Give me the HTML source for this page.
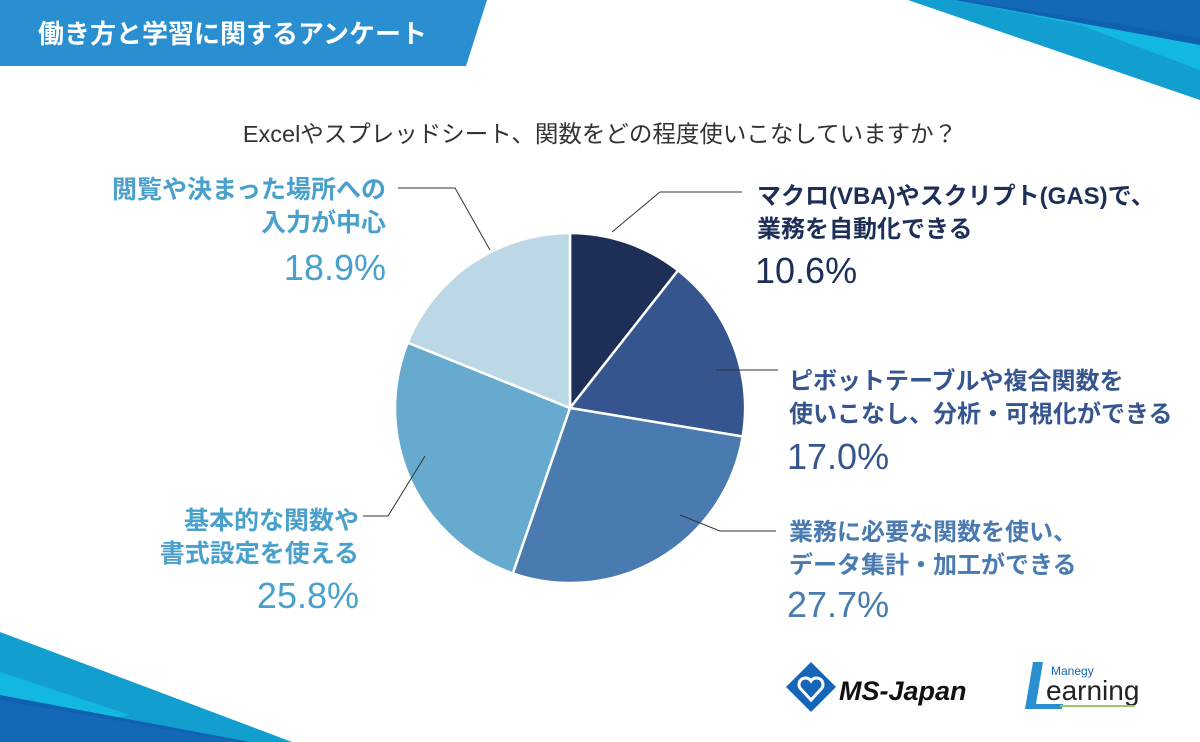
<!DOCTYPE html>
<html><head><meta charset="utf-8"><style>
body{margin:0;width:1200px;height:742px;overflow:hidden;background:#fff;font-family:"Liberation Sans","Noto Sans CJK JP",sans-serif;}
svg{display:block}
</style></head><body>
<svg width="1200" height="742" viewBox="0 0 1200 742">
<polygon points="0,0 487,0 466,66 0,66" fill="#2a8fd0"/>
<text x="38" y="43" font-size="26" font-weight="700" fill="#fff" font-family="Liberation Sans,Noto Sans CJK JP,sans-serif">働き方と学習に関するアンケート</text>
<polygon points="908,0 1200,0 1200,100" fill="#129fd0"/>
<polygon points="955,0 1200,0 1200,70 1080,25" fill="#13b8e0"/>
<polygon points="955,0 1200,0 1200,45" fill="#1060b0"/>
<polygon points="960,0 1200,0 1200,38 1120,24" fill="#1468b8"/>
<polygon points="0,632 292,742 0,742" fill="#129fd0"/>
<polygon points="0,672 130,715 0,742" fill="#13b8e0"/>
<polygon points="0,695 250,742 0,742" fill="#1060b0"/>
<polygon points="0,700 240,742 0,742" fill="#1468b8"/>
<text x="600" y="142" font-size="23.5" fill="#333" text-anchor="middle" font-family="Liberation Sans,Noto Sans CJK JP,sans-serif">Excelやスプレッドシート、関数をどの程度使いこなしていますか？</text>
<g stroke="#fff" stroke-width="2.5">
<path d="M570,408 L570,233 A175,175 0 0 1 678.1,270.4 Z" fill="#1e2f57"/>
<path d="M570,408 L678.1,270.4 A175,175 0 0 1 742.7,436.5 Z" fill="#36558f"/>
<path d="M570,408 L742.7,436.5 A175,175 0 0 1 512.8,573.4 Z" fill="#4a7bb0"/>
<path d="M570,408 L512.8,573.4 A175,175 0 0 1 407.7,342.6 Z" fill="#67aacf"/>
<path d="M570,408 L407.7,342.6 A175,175 0 0 1 570,233 Z" fill="#bcd8e6"/>
</g>
<g stroke="#333" stroke-width="1" fill="none">
<polyline points="612,232 660,192 742,192"/>
<polyline points="716,370 778,370"/>
<polyline points="680,515 720,531 776,531"/>
<polyline points="425,456 388,516 363,516"/>
<polyline points="490,250 455,188 398,188"/>
</g>
<g font-family="Liberation Sans,Noto Sans CJK JP,sans-serif" font-weight="700" font-size="24">
<g fill="#1e2f57"><text x="757" y="204">マクロ(VBA)やスクリプト(GAS)で、</text><text x="757" y="237">業務を自動化できる</text></g>
<g fill="#36558f"><text x="789" y="389">ピボットテーブルや複合関数を</text><text x="789" y="422">使いこなし、分析・可視化ができる</text></g>
<g fill="#4a7bb0"><text x="789" y="540">業務に必要な関数を使い、</text><text x="789" y="573">データ集計・加工ができる</text></g>
<g fill="#4aa0cc" text-anchor="end" font-size="25"><text x="386" y="198">閲覧や決まった場所への</text><text x="386" y="231">入力が中心</text><text x="359" y="529">基本的な関数や</text><text x="359" y="562">書式設定を使える</text></g>
</g>
<g font-family="Liberation Sans,sans-serif" font-size="36">
<text x="755" y="283" fill="#1e2f57">10.6%</text>
<text x="787" y="469" fill="#36558f">17.0%</text>
<text x="787" y="617" fill="#4a7bb0">27.7%</text>
<text x="386" y="280" fill="#4aa0cc" text-anchor="end">18.9%</text>
<text x="359" y="608" fill="#4aa0cc" text-anchor="end">25.8%</text>
</g>
<polygon points="811,662 836,687 811,712 786,687" fill="#1565b8"/>
<path d="M811,700 L800,688 A6,6 0 0 1 811,681 A6,6 0 0 1 822,688 Z" fill="none" stroke="#fff" stroke-width="3"/>
<text x="839" y="700" font-size="27" font-weight="700" font-style="italic" fill="#111" font-family="Liberation Sans,sans-serif">MS-Japan</text>
<polygon points="1033,662 1043,662 1036,704 1063,704 1062,709 1025,709" fill="#2a8fd0"/>
<text x="1051" y="675" font-size="12" fill="#1565b8" font-family="Liberation Sans,sans-serif">Manegy</text>
<text x="1046" y="700" font-size="28" fill="#222" font-family="Liberation Sans,sans-serif">earning</text>
<line x1="1060" y1="706" x2="1135" y2="706" stroke="#9cc46a" stroke-width="2"/>
</svg>
</body></html>
